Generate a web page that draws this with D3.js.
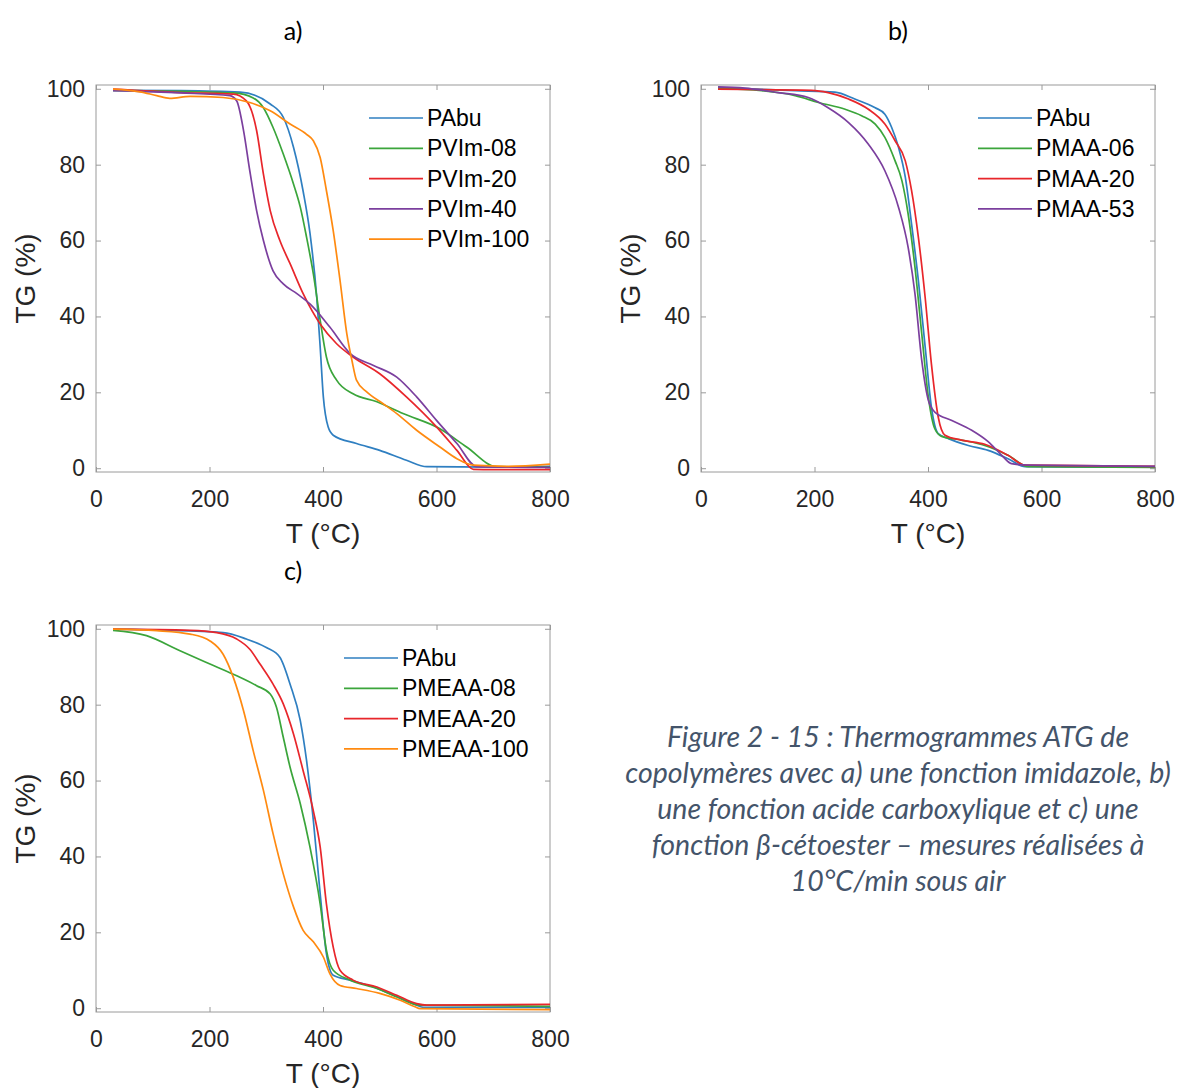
<!DOCTYPE html>
<html>
<head>
<meta charset="utf-8">
<script src="https://cdn.jsdelivr.net/npm/d3@7"></script>
<style>
	body { margin: 0; background: #fff; }
	svg text { font-family: "Liberation Sans", Arial, sans-serif; }
</style>
</head>
<body>
<div id="chart"></div>
<script>
// --- data (T in °C, TG in %) ---
const xTicks	= [0, 200, 400, 600, 800];
const yTicks	= [0, 20, 40, 60, 80, 100];

const namesA	= ["PAbu", "PVIm-08", "PVIm-20", "PVIm-40", "PVIm-100"];
const namesB	= ["PAbu", "PMAA-06", "PMAA-20", "PMAA-53"];
const namesC	= ["PAbu", "PMEAA-08", "PMEAA-20", "PMEAA-100"];

const colorsA	= ["#2f7fc1", "#3ba53b", "#e8262b", "#7b3f9e", "#ff8a10"];
const colorsB	= ["#2f7fc1", "#3ba53b", "#e8262b", "#7b3f9e"];
const colorsC	= ["#2f7fc1", "#3ba53b", "#e8262b", "#ff8a10"];

const a_PAbu	= [[30,99.6],[150,99.5],[254,99.1],[307,96],[330,92.5],[348,84.6],[365,73],[377,62],[389,45],[395,32],[400.6,18.8],[409,10.9],[418,8.7],[459,6.5],[500,4.7],[547,2.1],[583,0.4],[700,0.3],[800,0.5]];
const a_PVIm08	= [[30,99.6],[150,99.3],[242,98.9],[277,97.6],[295,95],[312,89.8],[330,82.8],[348,74.9],[360,68.8],[371,60.9],[383,51.2],[395,39],[406,29.3],[424,23.2],[453,19.6],[495,17.5],[541,14.4],[606,10.4],[653,5.6],[706,0.4],[800,0.3]];
const a_PVIm20	= [[30,99.9],[150,99],[242,98.6],[265,96.8],[283,89],[295,77.5],[307,67.9],[324,60],[342,53.9],[365,46],[395,38],[424,32.8],[453,29.3],[500,24.9],[547,18.8],[600,10.9],[636,4.7],[665,-0.3],[700,-0.4],[800,-0.4]];
const a_PVIm40	= [[30,99.5],[150,98.9],[236,98.2],[248,96.8],[260,89],[271,78.4],[283,67.9],[295,60],[312,52],[330,48.6],[354,46],[377,43.3],[412,37.2],[448,30.2],[489,27.1],[530,24],[565,18.8],[600,12.6],[636,6.5],[671,0.4],[800,0.2]];
const a_PVIm100	= [[30,99.9],[77.5,99.2],[107,98.2],[130,97.5],[166,98],[224,97.7],[271,96.4],[307,94.2],[342,90.7],[371,88],[383,86.3],[395,81.9],[406,73.2],[418,62.6],[430,49.5],[442,35.4],[451,28.4],[459,23.2],[477,20.1],[506,17],[530,14.4],[565,10],[606,5.6],[636,2.5],[665,0.8],[724,0.5],[800,1.1]];

const b_PAbu	= [[30,100.3],[166,99.5],[236,99.1],[271,97.3],[307,95],[324,93.3],[336,89.8],[348,84.6],[360,76.7],[371,64.4],[383,49.5],[395,32],[406,16.1],[418,9.1],[436,7.8],[471,6],[506,4.7],[541,2.5],[571,0.4],[700,0.3],[800,0.4]];
const b_PMAA06	= [[30,100.1],[107,99.5],[166,98.2],[207,96.4],[254,94.6],[283,92.9],[307,90.7],[324,87.2],[342,81],[354,75.8],[365,67],[377,53],[389,35.4],[400.6,18.8],[412,10.4],[424,8.4],[459,7.4],[500,6],[541,3.4],[577,0.4],[800,0.2]];
const b_PMAA20	= [[30,99.9],[195,99.6],[224,99],[260,97.3],[295,94.6],[324,90.7],[342,86.3],[360,81],[371,73.2],[383,60.9],[395,45],[406,27.5],[418,13.5],[430,8.7],[459,7.4],[500,6.3],[541,3.4],[571,0.8],[800,0.5]];
const b_PMAA53	= [[30,100.5],[77.5,100.2],[136,99],[189,97.7],[224,95],[260,91.1],[295,85.4],[324,78.4],[348,68.8],[365,58.2],[377,46],[389,28.4],[400.6,17.9],[412,14.8],[442,12.6],[477,10],[506,7],[530,3.4],[547,1.2],[577,0.8],[800,0.5]];

const c_PAbu	= [[30,99.9],[224,99],[265,97.3],[301,95],[324,92.5],[342,85.4],[360,75.8],[371,65.3],[383,49.5],[395,30.2],[406,14.4],[418,8.7],[448,7.4],[489,5.6],[530,3],[565,0.8],[577,0.2],[800,0.2]];
const c_PMEAA08	= [[30,99.6],[89,98.2],[148,94.2],[207,90.3],[248,87.6],[283,85],[307,82.8],[318,79.3],[330,71.4],[342,63.5],[360,53.9],[377,42.5],[395,27.5],[406,15.3],[418,10],[448,7.4],[495,5.2],[530,3],[571,0.8],[800,0.5]];
const c_PMEAA20	= [[30,99.9],[166,99.6],[213,99],[248,97.3],[271,94.6],[289,90.7],[312,85.4],[330,80.2],[348,72.3],[365,62.6],[383,52],[395,42.5],[406,27.5],[418,16.1],[430,10],[453,7.4],[495,5.6],[530,3.4],[565,1.2],[583,0.8],[800,1]];
const c_PMEAA100	= [[30,99.9],[107,99.5],[166,98.6],[201,96.8],[224,93.3],[242,87.2],[260,78.4],[277,67.9],[295,57.4],[312,46],[330,35.4],[348,26.7],[365,20.5],[383,17.5],[400.6,13.5],[412,9.1],[430,6],[459,5.2],[500,3.9],[536,2.1],[562,0.4],[571,-0.1],[800,-0.4]];

const seriesA	= [a_PAbu, a_PVIm08, a_PVIm20, a_PVIm40, a_PVIm100];
const seriesB	= [b_PAbu, b_PMAA06, b_PMAA20, b_PMAA53];
const seriesC	= [c_PAbu, c_PMEAA08, c_PMEAA20, c_PMEAA100];

const captionLines = [
	"Figure 2 - 15 : Thermogrammes ATG de",
	"copolymères avec a) une fonction imidazole, b)",
	"une fonction acide carboxylique et c) une",
	"fonction β-cétoester – mesures réalisées à",
	"10°C/min sous air"
];

let svg = d3.select("#chart").append("svg")
	.attr("width", 1179)
	.attr("height", 1088);

svg.append("rect")
	.attr("width", 1179)
	.attr("height", 1088)
	.attr("fill", "#fff");

function createPanel(opts) {
	let x	= d3.scaleLinear().domain([0, 800]).range([opts.left, opts.right]);
	let y	= d3.scaleLinear().domain([-1, 101]).range([opts.bottom, opts.top]);

	let g = svg.append("g");

	// panel letter
	g.append("text")
		.attr("x", (opts.left + opts.right) / 2 - 30)
		.attr("y", opts.top - 45)
		.attr("text-anchor", "middle")
		.style("font-family", "Lato, 'Open Sans', sans-serif")
		.style("font-size", "25px")
		.attr("fill", "#000")
		.text(opts.letter);

	// frame
	g.append("rect")
		.attr("x", opts.left)
		.attr("y", opts.top)
		.attr("width", opts.right - opts.left)
		.attr("height", opts.bottom - opts.top)
		.attr("fill", "none")
		.attr("stroke", "#9a9a9a")
		.attr("stroke-width", 1);

	let tickLen = 5;
	let axisStyle = (sel) => {
		sel.select(".domain").remove();
		sel.selectAll(".tick line").attr("stroke", "#9a9a9a");
		sel.selectAll(".tick text")
			.attr("fill", "#262626")
			.style("font-size", "23px");
	};

	g.append("g")
		.attr("transform", "translate(0," + opts.bottom + ")")
		.call(d3.axisBottom(x).tickValues(xTicks).tickSize(-tickLen).tickPadding(19))
		.call(axisStyle);
	g.append("g")
		.attr("transform", "translate(0," + opts.top + ")")
		.call(d3.axisTop(x).tickValues(xTicks).tickSize(-tickLen).tickFormat(""))
		.call(axisStyle);
	g.append("g")
		.attr("transform", "translate(" + opts.left + ",0)")
		.call(d3.axisLeft(y).tickValues(yTicks).tickSize(-tickLen).tickPadding(11))
		.call(axisStyle);
	g.append("g")
		.attr("transform", "translate(" + opts.right + ",0)")
		.call(d3.axisRight(y).tickValues(yTicks).tickSize(-tickLen).tickFormat(""))
		.call(axisStyle);

	// axis labels
	g.append("text")
		.attr("x", (opts.left + opts.right) / 2)
		.attr("y", opts.bottom + 71)
		.attr("text-anchor", "middle")
		.attr("fill", "#262626")
		.style("font-size", "28px")
		.text("T (°C)");
	g.append("text")
		.attr("transform", "translate(" + (opts.left - 61) + "," + ((opts.top + opts.bottom) / 2) + ") rotate(-90)")
		.attr("text-anchor", "middle")
		.attr("fill", "#262626")
		.style("font-size", "28px")
		.text("TG (%)");

	let line = d3.line()
		.x((d) => x(d[0]))
		.y((d) => y(d[1]))
		.curve(d3.curveMonotoneX);

	let clipId = "clip-" + opts.letter.replace(")", "");
	svg.append("clipPath").attr("id", clipId)
		.append("rect")
			.attr("x", opts.left)
			.attr("y", opts.top)
			.attr("width", opts.right - opts.left)
			.attr("height", opts.bottom - opts.top);

	g.append("g")
		.attr("clip-path", "url(#" + clipId + ")")
		.selectAll("path.serie")
		.data(opts.series)
			.enter().append("path")
			.attr("class", "serie")
			.attr("d", line)
			.attr("fill", "none")
			.attr("stroke", (d, i) => opts.colors[i])
			.attr("stroke-width", 1.7)
			.attr("stroke-linejoin", "round");

	// legend (no box)
	let leg = g.append("g")
		.selectAll("g.leg")
		.data(opts.names)
			.enter().append("g")
			.attr("class", "leg")
			.attr("transform", (d, i) => "translate(" + opts.legX + "," + (opts.legY + i * 30.3) + ")");
	leg.append("line")
		.attr("x1", 0).attr("x2", 54)
		.attr("stroke", (d, i) => opts.colors[i])
		.attr("stroke-width", 1.7);
	leg.append("text")
		.attr("x", 58)
		.attr("dy", "0.35em")
		.attr("fill", "#000")
		.style("font-size", "23px")
		.text((d) => d);
}

createPanel({ letter: "a)", left: 96, right: 550, top: 85, bottom: 472,
	series: seriesA, names: namesA, colors: colorsA, legX: 369, legY: 118 });
createPanel({ letter: "b)", left: 701, right: 1155, top: 85, bottom: 472,
	series: seriesB, names: namesB, colors: colorsB, legX: 978, legY: 118 });
createPanel({ letter: "c)", left: 96, right: 550, top: 625, bottom: 1012,
	series: seriesC, names: namesC, colors: colorsC, legX: 344, legY: 658 });

// caption
svg.append("g")
	.selectAll("text")
	.data(captionLines)
		.enter().append("text")
		.attr("x", 898)
		.attr("y", (d, i) => 747 + i * 36)
		.attr("text-anchor", "middle")
		.attr("fill", "#44546a")
		.style("font-family", "Lato, 'Open Sans', sans-serif")
		.style("font-style", "italic")
		.style("font-size", "28.5px")
		.text((d) => d);
</script>
</body>
</html>
